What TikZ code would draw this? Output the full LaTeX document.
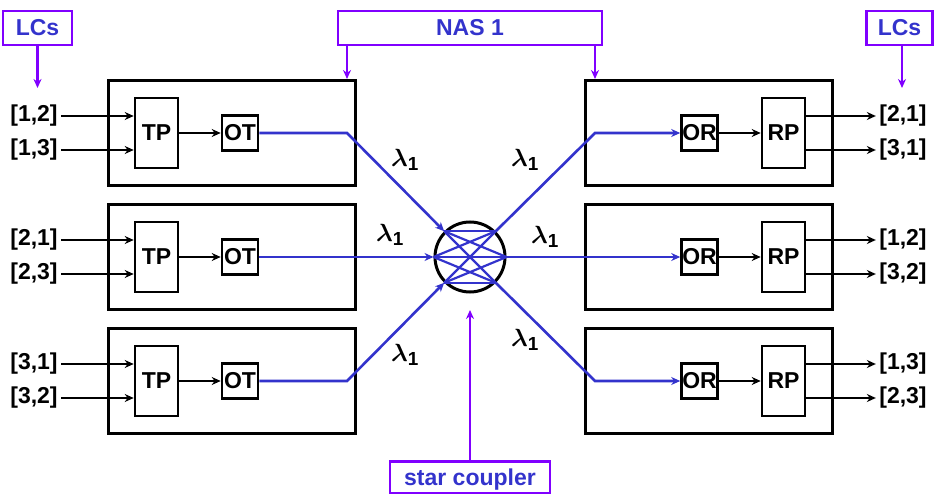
\documentclass[tikz,border=0pt]{standalone}
\usepackage{fontspec}
\setmainfont{Liberation Sans}
\usepackage{amsmath}
\usetikzlibrary{arrows.meta,positioning,calc}
\definecolor{fibre}{RGB}{51,51,204}
\definecolor{tag}{RGB}{128,0,255}
\tikzset{
  lbl/.style={font=\fontsize{23}{26}\selectfont\bfseries},
  card/.style={draw,line width=3pt,minimum width=247pt,minimum height=105pt},
  proc/.style={draw,line width=2.6pt,minimum width=43pt,minimum height=70pt,lbl},
  xcvr/.style={draw,line width=2.6pt,minimum width=36pt,minimum height=35pt,inner sep=0pt,lbl},
  tagbox/.style={draw=tag,line width=2.6pt,text=fibre,lbl,inner sep=0pt,minimum height=34pt},
  tip/.style={-{Stealth[length=9pt,width=8pt]}},
  blk/.style={line width=2.2pt,tip},
  fib/.style={fibre,line width=2.6pt},
  tagarr/.style={tag,line width=2.6pt,tip},
  lam/.style={font=\fontsize{27}{30}\selectfont}
}

\begin{document}
\begin{tikzpicture}[x=1pt,y=-1pt]
  \useasboundingbox (0,0) rectangle (934,494);
  % the three nodes at each side
  \foreach \r/\y/\a/\b/\c/\d in {1/133/{[1,2]}/{[1,3]}/{[2,1]}/{[3,1]},
      2/257/{[2,1]}/{[2,3]}/{[1,2]}/{[3,2]}, 3/381/{[3,1]}/{[3,2]}/{[1,3]}/{[2,3]}} {
    \node[card] (L\r) at (231.5,\y) {};
    \node[proc] (TP\r) at (156.5,\y) {TP};
    \node[xcvr] (OT\r) at (240,\y) {OT};
    \node[lbl] (ia\r) at (34,\y-17) {\a};
    \node[lbl] (ib\r) at (34,\y+17) {\b};
    \draw[blk] (ia\r) -- (ia\r -| TP\r.west);
    \draw[blk] (ib\r) -- (ib\r -| TP\r.west);
    \draw[blk] (TP\r) -- (OT\r);
    \node[card] (R\r) at (708.5,\y) {};
    \node[xcvr] (OR\r) at (699.5,\y) {OR};
    \node[proc] (RP\r) at (783.5,\y) {RP};
    \node[lbl] (oa\r) at (903,\y-17) {\c};
    \node[lbl] (ob\r) at (903,\y+17) {\d};
    \draw[blk] (OR\r) -- (RP\r);
    \draw[blk] (oa\r -| RP\r.east) -- (oa\r);
    \draw[blk] (ob\r -| RP\r.east) -- (ob\r);
  }
  % star coupler
  \node[draw,circle,line width=3pt,minimum size=70pt,inner sep=0pt] (SC) at (470,257) {};
  \foreach \p in {135,180,225}
    \foreach \q in {45,0,315}
      \draw[fib,line width=2.2pt] (SC.\p) -- (SC.\q);
  \coordinate (k1) at (347,133);
  \coordinate (k3) at (347,381);
  \coordinate (j1) at (595,133);
  \coordinate (j3) at (595,381);
  \draw[fib,tip] (OT1) -- (k1) -- (SC.135);
  \draw[fib,tip] (OT2) -- (SC.180);
  \draw[fib,tip] (OT3) -- (k3) -- (SC.225);
  \draw[fib,tip] (SC.45) -- (j1) -- (OR1);
  \draw[fib,tip] (SC.0) -- (OR2);
  \draw[fib,tip] (SC.315) -- (j3) -- (OR3);
  \node[lam] (w1) at (405,160) {$\boldsymbol{\lambda}_{\mathbf 1}$};
  \node[lam] (w2) at (390,235) {$\boldsymbol{\lambda}_{\mathbf 1}$};
  \node[lam] (w3) at (405,355) {$\boldsymbol{\lambda}_{\mathbf 1}$};
  \node[lam] (w4) at (525,160) {$\boldsymbol{\lambda}_{\mathbf 1}$};
  \node[lam] (w5) at (545,237) {$\boldsymbol{\lambda}_{\mathbf 1}$};
  \node[lam] (w6) at (525,340) {$\boldsymbol{\lambda}_{\mathbf 1}$};
  % labels
  \node[tagbox,minimum width=69pt] (LCl) at (37.5,28) {LCs};
  \node[tagbox,minimum width=264pt] (NAS) at (470,28) {NAS 1};
  \node[tagbox,minimum width=66pt] (LCr) at (899.5,28) {LCs};
  \node[tagbox,minimum width=160pt,minimum height=32pt,text depth=0pt] (star) at (470,477.5) {star coupler};
  \coordinate (p1) at (37.5,88);
  \coordinate (p2) at (902,88);
  \coordinate (s0) at (470,310);
  \draw[tagarr] (LCl.south -| p1) -- (p1);
  \draw[tagarr] (LCr.south -| p2) -- (p2);
  \draw[tagarr] (NAS.south -| k1) -- (k1 |- L1.north);
  \draw[tagarr] (NAS.south -| j1) -- (j1 |- R1.north);
  \draw[tagarr] (star) -- (s0);
\end{tikzpicture}
\end{document}
